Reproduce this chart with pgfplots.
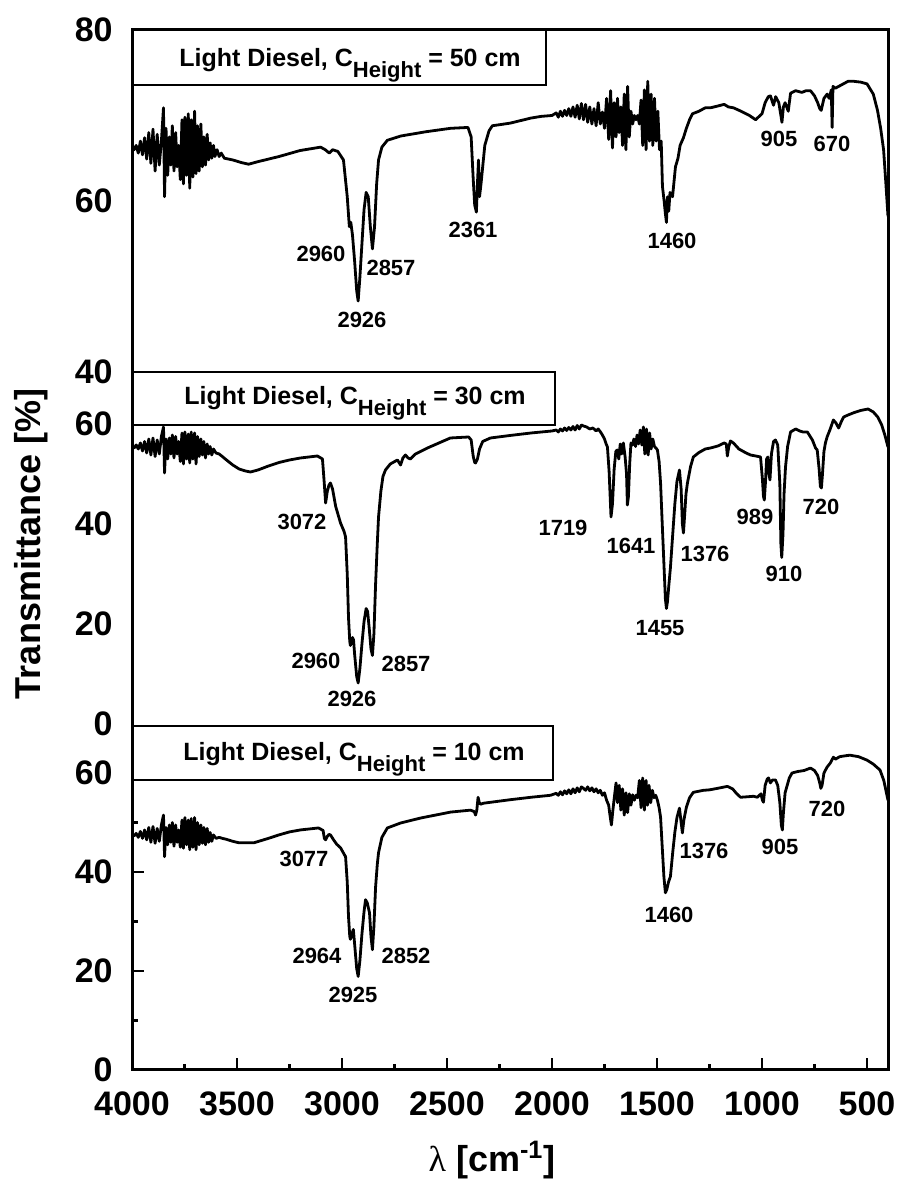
\documentclass[border=0pt]{standalone}
\usepackage{pgfplots}
\pgfplotsset{compat=1.18}
\usepackage{fontspec}
\setmainfont{Liberation Sans}
\newfontfamily\serifgreek{Liberation Serif}

\pgfplotstableread{
w v
4000 66.2
3990 66.0
3980 66.5
3970 65.6
3960 67.0
3950 65.4
3940 67.4
3930 64.9
3920 68.0
3910 64.4
3900 68.4
3890 63.5
3880 67.8
3870 64.2
3860 67.0
3850 70.9
3845 60.5
3838 68.5
3830 63.0
3822 67.5
3815 64.2
3808 68.8
3800 63.5
3792 68.0
3785 64.0
3778 66.5
3770 62.5
3762 69.5
3755 62.0
3748 69.8
3740 63.0
3732 70.2
3725 61.5
3718 69.5
3710 62.8
3702 70.5
3695 63.2
3688 68.8
3680 63.5
3672 69.0
3665 64.0
3658 67.5
3650 64.2
3642 67.8
3635 64.8
3628 66.8
3620 65.0
3612 66.5
3605 65.2
3595 66.0
3585 65.2
3575 65.6
3560 65.0
3520 64.8
3480 64.5
3445 64.3
3400 64.6
3300 65.2
3200 65.9
3102 66.3
3080 66.0
3060 65.6
3045 66.0
3020 65.8
2993 64.8
2975 60.5
2965 57.0
2958 57.5
2950 56.0
2940 53
2930 49.5
2923 48.3
2915 51
2905 55
2895 59
2885 61
2875 60.5
2865 57
2855 54.4
2845 57
2835 62
2826 64.8
2810 66.3
2784 67.1
2720 67.6
2600 68.1
2483 68.5
2400 68.6
2385 67.5
2375 62.5
2368 59.5
2360 58.7
2355 62
2350 64.8
2345 60.5
2338 62
2320 66.5
2300 68.2
2284 68.8
2200 69.1
2100 69.7
2050 69.9
2000 70.0
1980 70.3
1970 69.8
1960 70.5
1950 69.9
1940 70.6
1930 70.0
1920 70.8
1910 69.9
1900 71.0
1890 69.8
1880 71.2
1870 69.6
1860 71.4
1850 69.5
1840 71.3
1830 69.2
1820 71.0
1810 69.0
1800 70.8
1790 68.8
1780 71.5
1770 69.0
1760 70.4
1750 68.5
1740 72.0
1730 67.2
1721 72.9
1712 66.2
1704 71.5
1695 67.5
1688 72.0
1680 68.0
1672 71.0
1664 66.5
1656 72.5
1648 66.0
1640 73.4
1632 67.5
1624 70.5
1616 69.0
1608 70.0
1600 69.5
1592 70.0
1584 69.0
1576 71.8
1568 66.5
1560 73.0
1552 66.0
1544 74.0
1536 67.0
1528 72.5
1520 66.5
1512 72.0
1504 67.0
1496 70.5
1488 66.0
1480 67.0
1474 61.7
1466 60
1460 58.5
1455 57.5
1450 60.5
1444 58.8
1438 61
1426 60.5
1412 64
1400 65
1390 66.5
1374 67.4
1360 68.5
1345 69.5
1331 70.2
1300 70.5
1270 70.9
1245 70.9
1212 71.1
1180 71.3
1160 71.0
1136 70.9
1100 70.5
1060 70.0
1030 69.5
1022 69.7
1000 70.2
985 71.5
970 72.2
960 72.3
945 71.2
935 72.2
920 71.5
910 70.0
905 69.2
898 71.0
890 71.5
875 70.5
864 72.6
840 72.9
810 72.7
790 72.9
769 72.9
750 72.3
735 71.5
725 70.8
718 70.6
705 72.0
690 72.5
680 72.0
670 73.0
666 68.6
662 73.4
650 73.2
620 73.6
590 74.0
564 74.0
530 73.9
500 73.7
470 72.5
450 70.6
435 68.5
421 66
410 62
400 58.2
}\topdata

\pgfplotstableread{
w v
4000 55.4
3990 55.2
3980 55.8
3970 55.0
3960 56.2
3950 54.6
3940 56.5
3930 54.2
3920 57.0
3910 53.8
3900 57.2
3890 53.5
3880 56.8
3870 54.0
3860 57.5
3850 59.4
3845 50.2
3838 57.0
3830 53.0
3822 57.2
3815 54.0
3808 57.8
3800 53.2
3792 57.5
3785 54.0
3778 56.5
3770 52.5
3762 58.2
3755 52.0
3748 58.4
3740 53.0
3732 58.0
3725 52.2
3718 58.4
3710 53.0
3702 58.2
3695 52.0
3688 57.5
3680 53.5
3672 57.0
3665 53.8
3658 56.5
3650 53.2
3642 56.0
3635 54.0
3628 55.5
3620 53.8
3612 55.0
3600 54.2
3585 54.0
3570 53.5
3550 52.8
3520 51.8
3490 51.0
3460 50.6
3436 50.4
3400 50.8
3350 51.6
3300 52.3
3250 52.8
3198 53.2
3117 53.6
3093 53.0
3085 48.5
3078 44.2
3070 46.5
3062 47.8
3055 48.2
3045 47.0
3030 43.5
3007 40.2
2990 38.5
2983 37.4
2975 30.0
2969 21.3
2963 16.5
2960 15.7
2955 16.5
2950 17.3
2945 16.8
2940 14
2930 9.5
2923 8.2
2915 11
2905 16
2895 20.5
2885 23.1
2878 22.5
2870 19
2862 15
2855 13.7
2848 18
2840 28
2832 36
2826 41.4
2815 46.5
2805 49.5
2793 50.8
2770 52
2736 52.8
2721 51.8
2710 53.2
2698 53.8
2685 53.2
2674 53.0
2650 54.0
2593 55.2
2484 57.2
2397 57.4
2385 56.8
2375 53.5
2368 52.3
2364 52.2
2355 53.0
2345 55.0
2330 56.5
2293 57.2
2200 57.7
2100 58.2
2000 58.6
1980 58.8
1970 58.4
1960 59.0
1950 58.6
1940 59.2
1930 58.7
1920 59.3
1910 58.8
1900 59.5
1890 58.8
1880 59.7
1870 59.0
1860 59.8
1850 59.6
1835 59.4
1820 59.0
1805 59.2
1790 58.6
1780 59.0
1769 58.4
1760 57.8
1750 57.0
1742 56.0
1736 55.4
1728 50.5
1719 41.4
1712 44.0
1704 51.0
1696 54.5
1690 54.8
1682 53.0
1675 56.0
1668 54.0
1660 56.2
1652 53.5
1645 50
1641 43.8
1636 45.5
1630 52
1624 56.2
1617 55.8
1610 57.0
1602 55.5
1595 57.8
1588 56.0
1580 58.8
1572 55.8
1565 59.4
1558 54.0
1550 59.0
1542 53.8
1535 58.2
1528 55.0
1520 57.0
1512 55.5
1505 55.2
1498 54.8
1490 52.5
1483 48.2
1475 40
1467 32
1460 25
1455 23.1
1450 24.5
1443 28
1436 31.3
1425 38
1415 44
1405 48.5
1393 50.8
1385 47
1379 40
1374 38.2
1368 42
1362 46
1355 48.2
1340 51.5
1327 53.4
1300 54.3
1270 55.0
1245 55.2
1210 55.6
1180 56.2
1170 56.0
1165 53.6
1158 55.5
1150 56.6
1136 56.2
1110 55.0
1080 54.3
1055 53.8
1030 53.6
1007 53.4
998 49
993 45.5
989 44.8
984 48
978 53.0
972 53.4
967 50
962 48.8
955 54
945 56.5
936 56.8
925 55.8
915 48
910 36
906 33.3
900 38
895 46
888 51.4
878 55.5
864 58.4
840 59
820 58.6
805 58.4
784 58.4
760 56.8
745 55.2
737 54.8
728 51
722 47.5
717 47.2
712 50
705 54.5
698 56.2
690 57.4
675 59
660 60.8
648 60.2
635 59.2
622 60.5
611 61.4
590 61.8
560 62.3
530 62.7
495 63
470 62.4
449 61.4
430 59.8
415 57.8
400 55.4
}\middata

\pgfplotstableread{
w v
4000 47.5
3990 47.3
3980 47.8
3970 47.0
3960 48.2
3950 46.8
3940 48.5
3930 46.5
3920 49.0
3910 46.0
3900 49.2
3890 45.8
3880 48.8
3870 46.2
3860 49.5
3850 51.5
3845 43.1
3838 49.0
3830 45.5
3822 49.5
3815 46.0
3808 50.0
3800 45.2
3792 49.5
3785 46.0
3778 48.5
3770 45.0
3762 50.5
3755 44.8
3748 51.0
3740 45.5
3732 50.5
3725 44.5
3718 50.8
3710 45.0
3702 51.0
3695 44.5
3688 50.0
3680 45.5
3672 49.5
3665 45.8
3658 49.0
3650 45.5
3642 48.8
3635 46.0
3628 48.0
3620 46.2
3612 47.5
3600 46.8
3585 47.0
3570 46.8
3550 46.6
3520 46.2
3490 45.9
3420 45.9
3350 46.8
3300 47.5
3250 48.1
3198 48.5
3112 48.9
3090 48.4
3084 46.8
3078 46.5
3070 47.2
3062 47.6
3055 47.5
3040 46.5
3025 45.6
3007 44.9
2990 43.6
2983 43.1
2975 38
2969 31
2963 27
2960 26.4
2953 27.5
2946 28.4
2940 25.5
2930 20.5
2923 18.9
2915 22
2905 27.5
2895 32
2888 34.4
2880 33.8
2873 32.5
2869 31.8
2862 27
2855 24.3
2848 29
2840 37
2832 41.5
2826 43.9
2810 47
2784 48.9
2721 49.9
2626 50.9
2484 52.1
2388 52.5
2370 52.2
2364 51.5
2358 52.5
2352 55.1
2346 54.0
2340 53.7
2326 53.9
2200 54.6
2100 55.1
2007 55.5
1980 55.9
1970 55.5
1960 56.2
1950 55.6
1940 56.4
1930 55.8
1920 56.6
1910 55.8
1900 56.8
1890 56.0
1880 57.0
1870 56.2
1860 57.2
1850 56.9
1840 56.5
1830 57.2
1820 56.4
1810 57.0
1800 56.2
1790 56.8
1780 56.0
1770 56.5
1760 55.5
1750 56.0
1740 54.5
1730 53.5
1724 51.5
1717 49.5
1710 52.5
1702 55.5
1695 58.0
1688 54.0
1680 57.5
1672 52.5
1664 56.8
1656 51.5
1648 56.0
1640 52.0
1632 55.8
1624 53.5
1616 55.6
1608 54.5
1600 55.5
1592 55.0
1584 58.5
1576 53.0
1568 59.0
1560 52.5
1552 58.5
1545 53.5
1538 57.5
1530 54.0
1522 56.5
1514 55.0
1506 55.5
1498 54.5
1490 53.0
1483 51.1
1475 45
1467 39
1460 35.8
1453 36.5
1445 38
1436 39.1
1425 44
1415 48
1405 51
1393 52.9
1385 50
1379 47.9
1372 50.5
1360 53.1
1345 55
1327 56.1
1280 56.5
1250 56.6
1212 56.9
1165 57.3
1140 56.8
1120 55.8
1102 55.1
1070 55.2
1040 55.3
1022 55.1
1005 55.8
998 54.5
993 54.1
985 57.5
975 58.8
969 59.0
960 58.0
950 58.6
936 58.6
925 57.5
915 54
908 49.5
903 48.5
898 52
890 56
880 57.5
870 59
857 60.0
830 60.3
800 60.5
769 61.0
750 60.5
735 59.5
725 58
720 56.9
714 57.5
705 60
690 61.2
675 62.0
660 63.2
650 62.8
630 63.3
600 63.5
581 63.6
540 63.3
500 62.6
470 61.8
438 60.6
420 58.5
400 54.5
}\botdata

\newcommand\lab[1]{\fontsize{11}{11}\selectfont\bfseries #1}
\newcommand\ttl[1]{\fontsize{12.5}{12.5}\selectfont\bfseries Light Diesel, C\raisebox{-5.5pt}{\fontsize{11}{11}\selectfont Height} = #1 cm}

\begin{document}
\begin{tikzpicture}[x=1pt,y=1pt]
\useasboundingbox (0,0) rectangle (450.5,590.5);
\pgfplotsset{
  panel/.style={
    scale only axis, width=378pt, anchor=south west,
    xmin=400, xmax=4000, x dir=reverse,
    axis line style={draw=none},
    tick align=inside, major tick length=6pt, minor tick length=3pt,
    tick style={line width=1.2pt, black},
    ytick pos=left, xtick pos=bottom,
    ticklabel style={font=\fontsize{17}{17}\selectfont\bfseries},
    /pgf/number format/assume math mode=true,
    /pgf/number format/1000 sep={},
    yticklabel style={inner sep=0pt, anchor=east, xshift=-9.5pt},
    xticklabel style={inner sep=0pt, anchor=north, yshift=-10.5pt},
    clip=false,
  },
  spec/.style={black, line width=1.4pt, line join=round, no markers},
}
% top panel
\begin{axis}[panel, at={(66pt,404.5pt)}, height=171pt, ymin=40, ymax=80,
  xtick=\empty, ytick={40,60,80}, major tick length=0pt]
\addplot[spec] table[x=w,y=v] {\topdata};
\end{axis}
% middle panel
\begin{axis}[panel, at={(66pt,228.5pt)}, height=176pt, ymin=0, ymax=70.4,
  xtick=\empty, ytick={0,20,40,60}, major tick length=0pt]
\addplot[spec] table[x=w,y=v] {\middata};
\end{axis}
% bottom panel
\begin{axis}[panel, at={(66pt,55.5pt)}, height=172pt, ymin=0, ymax=69.5,
  xtick={500,1000,...,4000}, minor x tick num=1,
  ytick={0,20,40,60}, minor y tick num=1]
\addplot[spec] table[x=w,y=v] {\botdata};
\end{axis}

% title boxes
\draw[line width=0.8pt, fill=white] (66,575.5) rectangle (273,548);
\draw[line width=0.8pt, fill=white] (66,404.5) rectangle (277.5,378);
\draw[line width=0.8pt, fill=white] (66,227.5) rectangle (276.5,200.5);
\node[anchor=base, inner sep=0pt] at (175,557) {\ttl{50}};
\node[anchor=base, inner sep=0pt] at (177.5,388) {\ttl{30}};
\node[anchor=base, inner sep=0pt] at (177,210) {\ttl{10}};

% frame
\draw[line width=1.5pt] (66,55.5) rectangle (444,575.5);

% peak labels top
\node at (160.5,463.5) {\lab{2960}};
\node at (195.5,456.5) {\lab{2857}};
\node at (181,430.5) {\lab{2926}};
\node at (236.5,475.5) {\lab{2361}};
\node at (336,470) {\lab{1460}};
\node at (389.5,521) {\lab{905}};
\node at (416,518.5) {\lab{670}};
% middle
\node at (151,329.5) {\lab{3072}};
\node at (158,260) {\lab{2960}};
\node at (203,258.5) {\lab{2857}};
\node at (176,241) {\lab{2926}};
\node at (281.5,326.5) {\lab{1719}};
\node at (315.5,317.5) {\lab{1641}};
\node at (352.5,313.5) {\lab{1376}};
\node at (330,276.5) {\lab{1455}};
\node at (377.5,332) {\lab{989}};
\node at (392,303.5) {\lab{910}};
\node at (410.5,337) {\lab{720}};
% bottom
\node at (152,161) {\lab{3077}};
\node at (158.5,112.5) {\lab{2964}};
\node at (203,112.5) {\lab{2852}};
\node at (176.5,93) {\lab{2925}};
\node at (352,165) {\lab{1376}};
\node at (334.5,133) {\lab{1460}};
\node at (390,167) {\lab{905}};
\node at (413.5,186) {\lab{720}};

% axis labels
\node[rotate=90] at (15.5,318.5) {\fontsize{18}{18}\selectfont\bfseries Transmittance [\%]};
\node at (246,10.5) {\fontsize{18}{18}\selectfont\bfseries{\serifgreek\mdseries λ} [cm\textsuperscript{-1}]};
\end{tikzpicture}
\end{document}
